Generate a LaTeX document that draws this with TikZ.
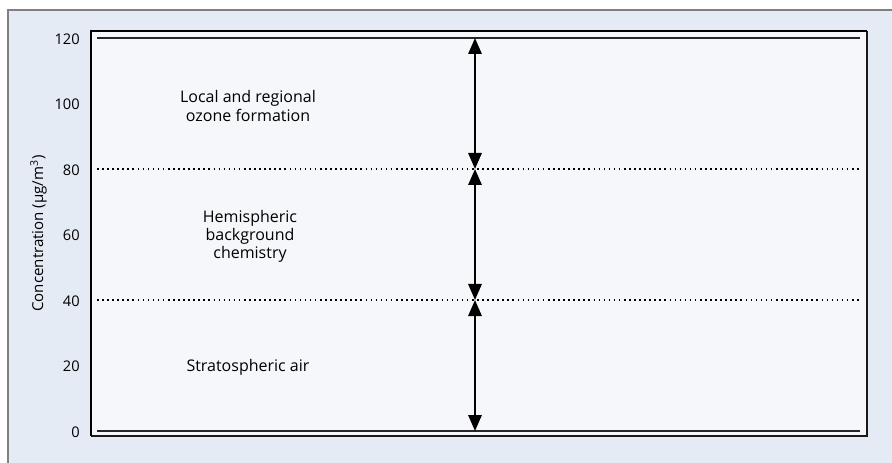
\documentclass[tikz,border=0pt]{standalone}
\usepackage{fontspec}
\setmainfont{Open Sans}
\usetikzlibrary{arrows.meta}
\definecolor{outerbg}{HTML}{E4EBF5}
\definecolor{innerbg}{HTML}{F5F7FB}
\definecolor{framegray}{HTML}{808080}
\definecolor{textgray}{HTML}{000000}
\tikzset{
  tick/.style={anchor=east, font=\fontsize{11}{13}\selectfont, inner sep=0pt, text=textgray},
  region/.style={align=center, font=\fontsize{12}{13.6}\selectfont, inner sep=0pt, text=textgray},
  solidlevel/.style={line width=1.3pt, black!85},
  dottedlevel/.style={line width=1.2pt, dash pattern=on 1.2pt off 2.6pt},
  span/.style={line width=1.5pt, {Triangle[width=10pt,length=12pt]}-{Triangle[width=10pt,length=12pt]}}
}
\begin{document}
\begin{tikzpicture}[x=0.75pt,y=-0.75pt]
\useasboundingbox (0,0) rectangle (892,463);
% outer panel
\fill[outerbg] (8,10) rectangle (892,463);
\draw[framegray, line width=1.6pt] (8,463) -- (8,10) -- (892,10);
% inner plot area
\fill[innerbg] (91,31) rectangle (867,436);
\draw[black!80!gray, line width=1.4pt] (867,31) -- (867,436) -- (91,436);
\draw[black, line width=0.8pt] (91,436) -- (91,31) -- (867,31);
% level lines
\coordinate (l120w) at (97,38);  \coordinate (l120e) at (860,38);
\coordinate (l80w) at (97,169);  \coordinate (l80e) at (860,169);
\coordinate (l40w) at (97,300);  \coordinate (l40e) at (860,300);
\coordinate (l0w) at (97,431);   \coordinate (l0e) at (860,431);
\draw[solidlevel] (l120w) -- (l120e);
\draw[solidlevel] (l0w) -- (l0e);
\draw[dottedlevel] (l80w) -- (l80e);
\draw[dottedlevel] (l40w) -- (l40e);
% ticks
\node[tick] (t120) at (80,39) {120};
\node[tick] (t100) at (80,104.5) {100};
\node[tick] (t80) at (80,170) {80};
\node[tick] (t60) at (80,235.5) {60};
\node[tick] (t40) at (80,301) {40};
\node[tick] (t20) at (80,366.5) {20};
\node[tick] (t0) at (80,432) {0};
% axis label
\node[rotate=90, font=\fontsize{11.3}{13}\selectfont, inner sep=0pt, text=textgray] (ylab) at (38.5,233.5) {Concentration (µg/m\textsuperscript{3})};
% arrows
\coordinate (a120) at (475,38);
\coordinate (a80) at (475,169);
\coordinate (a40) at (475,300);
\coordinate (a0) at (475,431);
\draw[span] (a120) -- (a80);
\draw[span] (a80) -- (a40);
\draw[span] (a40) -- (a0);
% region labels
\node[region] (local) at (248,106) {Local and regional\\ozone formation};
\node[region] (hemi) at (250,236.5) {Hemispheric\\background\\chemistry};
\node[region, anchor=base] (strat) at (248,371.7) {Stratospheric air};
\end{tikzpicture}
\end{document}
